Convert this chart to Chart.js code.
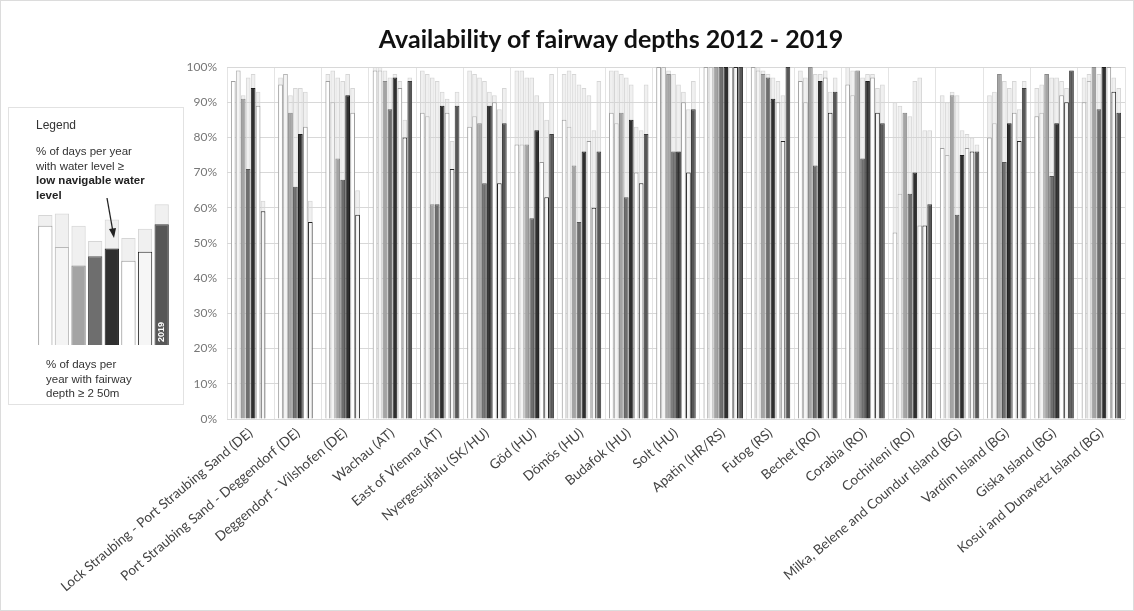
<!DOCTYPE html>
<html>
<head>
<meta charset="utf-8">
<script src="https://cdn.jsdelivr.net/npm/chart.js@4"></script>
<style>
  html, body { margin: 0; padding: 0; background: #fff; }
  #wrap { position: relative; width: 1132px; height: 609px; border: 1px solid #dcdcdc; overflow: hidden; }
  #main { position: absolute; left: 0; top: 0; }
  #title { position: absolute; left: 260px; width: 700px; top: 22px; text-align: center;
           font: bold 25px Lato, "Noto Sans", sans-serif; color: #111; }
  #legendBox { position: absolute; left: 7px; top: 106px; width: 174px; height: 296px;
               border: 1px solid #e2e2e2; font-family: "Liberation Sans", Arial, sans-serif; color: #333; }
  #legendBox .hd { position: absolute; left: 27px; top: 10px; font-size: 12px; }
  #legendBox .t1 { position: absolute; left: 27px; top: 36px; font-size: 11.5px; line-height: 14.5px; }
  #legendBox .t1 b { font-weight: 600; color: #222; }
  #legendBox .t2 { position: absolute; left: 37px; top: 249px; font-size: 11.5px; line-height: 14.5px; }
  #mini { position: absolute; left: 28px; top: 84px; }
  #arrow { position: absolute; left: 0; top: 0; }
</style>
</head>
<body>
<div id="wrap">
  <canvas id="main" width="1132" height="609"></canvas>
  <div id="title">Availability of fairway depths 2012 - 2019</div>
  <div id="legendBox">
    <div class="hd">Legend</div>
    <div class="t1">% of days per year<br>with water level ≥<br><b>low navigable water</b><br><b>level</b></div>
    <canvas id="mini" width="133" height="153"></canvas>
    <svg id="arrow" width="174" height="296">
      <line x1="98" y1="90" x2="104" y2="124" stroke="#222" stroke-width="1.3"/>
      <polygon points="105,130 100,121 107,120" fill="#222"/>
    </svg>
    <div class="t2">% of days per<br>year with fairway<br>depth ≥ 2 50m</div>
  </div>
</div>
<script>
const sections = [
  "Lock Straubing - Port Straubing Sand (DE)", "Port Straubing Sand - Deggendorf (DE)",
  "Deggendorf - Vilshofen (DE)", "Wachau (AT)", "East of Vienna (AT)", "Nyergesujfalu (SK/HU)",
  "Göd (HU)", "Dömös (HU)", "Budafok (HU)", "Solt (HU)", "Apatin (HR/RS)", "Futog (RS)",
  "Bechet (RO)", "Corabia (RO)", "Cochirleni (RO)", "Milka, Belene and Coundur Island (BG)",
  "Vardim Island (BG)", "Giska Island (BG)", "Kosui and Dunavetz Island (BG)"
];
const years = ["2012", "2013", "2014", "2015", "2016", "2017", "2018", "2019"];

// % of days with fairway depth >= 2.50 m
const depth2012 = [96, 95, 96, 99, 87, 83, 78, 85, 87, 100, 100, 100, 96, 95, 53, 77, 80, 86, 90];
const depth2013 = [99, 98, 90, 99, 86, 86, 78, 83, 84, 100, 100, 99, 90, 92, 64, 75, 84, 87, 96];
const depth2014 = [91, 87, 74, 96, 61, 84, 78, 72, 87, 98, 100, 98, 100, 99, 87, 92, 98, 98, 100];
const depth2015 = [71, 66, 68, 88, 61, 67, 57, 56, 63, 76, 100, 97, 72, 74, 64, 58, 73, 69, 88];
const depth2016 = [94, 81, 92, 97, 89, 89, 82, 76, 85, 76, 100, 91, 96, 96, 70, 75, 84, 84, 100];
const depth2017 = [89, 83, 87, 94, 87, 90, 73, 79, 70, 90, 100, 90, 97, 97, 55, 77, 87, 92, 100];
const depth2018 = [59, 56, 58, 80, 71, 67, 63, 60, 67, 70, 100, 79, 87, 87, 55, 76, 79, 90, 93];
const depth2019 = [null, null, null, 96, 89, 84, 81, 76, 81, 88, 100, 100, 93, 84, 61, 76, 94, 99, 87];

// % of days with water level >= low navigable water level
const water2012 = [96, 97, 98, 100, 99, 99, 99, 98, 99, 100, 100, 100, 99, 100, 90, 92, 92, 94, 97];
const water2013 = [99, 98, 99, 100, 98, 98, 99, 99, 99, 100, 100, 100, 97, 99, 89, 90, 93, 95, 98];
const water2014 = [92, 92, 97, 99, 97, 97, 97, 98, 98, 99, 100, 99, 100, 99, 87, 93, 98, 98, 100];
const water2015 = [97, 94, 96, 97, 96, 96, 97, 95, 97, 98, 100, 98, 98, 97, 86, 92, 96, 97, 98];
const water2016 = [98, 94, 98, 98, 93, 93, 92, 94, 95, 95, 100, 97, 98, 98, 96, 82, 94, 97, 100];
const water2017 = [93, 93, 94, 96, 91, 92, 90, 92, 83, 93, 100, 96, 99, 98, 97, 81, 96, 96, 100];
const water2018 = [62, 62, 65, 85, 79, 88, 85, 82, 82, 88, 100, 92, 93, 94, 82, 80, 88, 94, 97];
const water2019 = [null, null, null, 97, 93, 94, 98, 96, 95, 96, 100, 100, 97, 95, 82, 78, 96, 99, 94];

const yTicks = [0, 10, 20, 30, 40, 50, 60, 70, 80, 90, 100];

// legend sketch values
const legendDepth = [78, 64, 52, 58, 63, 55, 61, 79];
const legendWater = [85, 86, 78, 68, 82, 70, 76, 92];

const depthSets = [depth2012, depth2013, depth2014, depth2015, depth2016, depth2017, depth2018, depth2019];
const waterSets = [water2012, water2013, water2014, water2015, water2016, water2017, water2018, water2019];
const fills   = ["#ffffff", "#f4f4f4", "#a4a4a4", "#6e6e6e", "#2f2f2f", "#ffffff", "#f6f6f6", "#575757"];
const borders = ["#a0a0a0", "#b8b8b8", "#8a8a8a", "#555555", "#1e1e1e", "#9a9a9a", "#262626", "#3c3c3c"];
const ghostFill = "rgba(205,205,205,0.3)";
const ghostLine = "#d6d6d6";

const datasets = [];
years.forEach((y, i) => {
    datasets.push({
        label: y, data: depthSets[i], stack: y, order: 0,
        backgroundColor: fills[i], borderColor: borders[i], borderWidth: 1,
        categoryPercentage: 0.84, barPercentage: 0.95
    });
    datasets.push({
        label: y + " water", data: waterSets[i], stack: y, order: 1,
        backgroundColor: ghostFill, borderColor: ghostLine, borderWidth: 1,
        categoryPercentage: 0.84, barPercentage: 0.95
    });
});

new Chart(document.getElementById("main"), {
    type: "bar",
    data: { labels: sections, datasets: datasets },
    options: {
        responsive: false,
        animation: false,
        layout: { padding: { left: 180, right: 8, top: 66, bottom: 3 } },
        plugins: { legend: { display: false }, title: { display: false }, tooltip: { enabled: false } },
        scales: {
            x: {
                stacked: true,
                afterFit: s => { s.height = 609 - 418 - 3; },
                grid: { display: true, offset: true, color: "#e4e4e4", drawTicks: false },
                border: { display: false },
                ticks: {
                    autoSkip: false, maxRotation: 40, minRotation: 40, padding: 6,
                    color: "#444", font: { family: "Lato", size: 13.5 }
                }
            },
            y: {
                stacked: false, min: 0, max: 100,
                afterFit: s => { s.width = 46; },
                afterBuildTicks: s => { s.ticks = yTicks.map(v => ({ value: v })); },
                grid: { color: "#d8d8d8", drawTicks: false },
                border: { display: false },
                ticks: {
                    padding: 10, color: "#777", font: { family: "Lato", size: 12 },
                    callback: v => v + "%"
                }
            }
        }
    }
});

// small legend drawing
const yearTag = {
    id: "yearTag",
    afterDatasetsDraw(chart) {
        const bar = chart.getDatasetMeta(0).data[7];
        const ctx = chart.ctx;
        ctx.save();
        ctx.translate(bar.x, chart.chartArea.bottom - 3);
        ctx.rotate(-Math.PI / 2);
        ctx.fillStyle = "#fff";
        ctx.font = "bold 9px 'Liberation Sans', Arial";
        ctx.textBaseline = "middle";
        ctx.fillText("2019", 0, 0);
        ctx.restore();
    }
};

new Chart(document.getElementById("mini"), {
    type: "bar",
    data: {
        labels: years,
        datasets: [
            { data: legendDepth, stack: "a", order: 0, backgroundColor: fills, borderColor: borders, borderWidth: 1,
              categoryPercentage: 1, barPercentage: 0.86 },
            { data: legendWater, stack: "a", order: 1, backgroundColor: ghostFill, borderColor: ghostLine, borderWidth: 1,
              categoryPercentage: 1, barPercentage: 0.86 }
        ]
    },
    options: {
        responsive: false,
        animation: false,
        layout: { padding: 0 },
        plugins: { legend: { display: false }, tooltip: { enabled: false } },
        scales: {
            x: { stacked: true, display: false },
            y: { stacked: false, display: false, min: 0, max: 100 }
        }
    },
    plugins: [yearTag]
});
</script>
</body>
</html>
